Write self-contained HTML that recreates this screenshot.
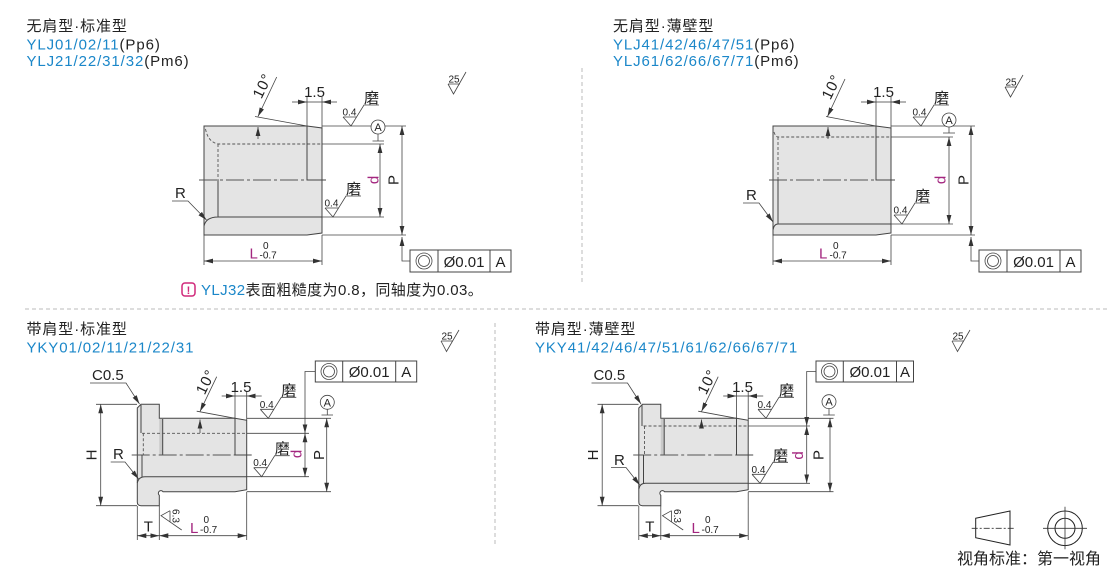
<!DOCTYPE html>
<html><head><meta charset="utf-8"><style>
html,body{margin:0;padding:0;background:#fff;}
svg{display:block;}
text{font-family:"Liberation Sans","Noto Sans CJK SC",sans-serif;fill:#222;font-size:15px;}
.o{fill:#e4e4e4;stroke:#444;stroke-width:1;}
.s{stroke:#444;fill:none;stroke-width:1;}
.t{stroke:#444;fill:none;stroke-width:0.8;}
.ds{stroke:#555;fill:none;stroke-width:0.9;stroke-dasharray:3,2;}
.cl{stroke:#555;fill:none;stroke-width:0.9;stroke-dasharray:18,3,3,3;}
.dv{stroke:#bbb;fill:none;stroke-width:1;stroke-dasharray:4,3;}
.sm{font-size:10px;}
.bl{fill:#1b87c9;}
.mg{fill:#a3267f;}
.ti{letter-spacing:0.9px;}
</style></head><body>
<svg width="1110" height="570" viewBox="0 0 1110 570" xmlns="http://www.w3.org/2000/svg">
<defs>
<marker id="a" viewBox="0 0 9 6" refX="9" refY="3" markerWidth="9" markerHeight="6" orient="auto-start-reverse" markerUnits="userSpaceOnUse"><path d="M0,0.6 L9,3 L0,5.4Z" fill="#333"/></marker>
</defs>

<!-- dividers -->
<line class="dv" x1="25" y1="309" x2="1108" y2="309"/>
<line class="dv" x1="582" y1="68" x2="582" y2="285"/>
<line class="dv" x1="495" y1="323" x2="495" y2="545"/>

<!-- ================= D1 ================= -->
<text x="26.5" y="31" class="ti">无肩型·标准型</text>
<text x="26.5" y="49.5" class="ti"><tspan class="bl">YLJ01/02/11</tspan>(Pp6)</text>
<text x="26.5" y="66" class="ti"><tspan class="bl">YLJ21/22/31/32</tspan>(Pm6)</text>

<path class="o" d="M204,126 L307,126 L322,128 L322,233 L307,235 L204,235 Z"/>
<path class="ds" d="M205.5,129 Q208,142 218,144 L322,144 M218,144 L218,180"/>
<line class="cl" x1="199" y1="180" x2="307" y2="180"/>
<path class="s" d="M218,180 L218,217 M204,226 Q206,217 218,217 L322,217 M307,126 L307,180 L326,180"/>

<path class="t" d="M322,126 L406,126 M322,235 L406,235 M322,144 L384,144 M322,217 L384,217 M204,235 L204,265 M322,235 L322,265 M307,97 L307,126 M322,97 L322,128 M255,116.5 L307,126"/>
<line class="t" x1="380" y1="144" x2="380" y2="217" marker-start="url(#a)" marker-end="url(#a)"/>
<line class="t" x1="402" y1="126" x2="402" y2="235" marker-start="url(#a)" marker-end="url(#a)"/>
<polyline class="t" points="410,261 402,261 402,237" marker-end="url(#a)"/>
<line class="t" x1="204" y1="261" x2="322" y2="261" marker-start="url(#a)" marker-end="url(#a)"/>
<line class="t" x1="292" y1="102" x2="307" y2="102" marker-end="url(#a)"/>
<line class="t" x1="337" y1="102" x2="322" y2="102" marker-end="url(#a)"/>
<line class="t" x1="307" y1="102" x2="322" y2="102"/>
<line class="t" x1="276.7" y1="77" x2="258" y2="116.5" marker-end="url(#a)"/>
<line class="t" x1="258" y1="139" x2="258" y2="127" marker-end="url(#a)"/>
<text transform="translate(267,88) rotate(-64)" text-anchor="middle" style="letter-spacing:1px">10°</text>
<text x="314.5" y="97" text-anchor="middle">1.5</text>
<!-- roughness top -->
<path class="t" d="M343,117 L351,126 L364,105 L379,105 M343,117 L356.6,117"/>
<text x="342.5" y="115.5" class="sm">0.4</text>
<text x="364" y="103">磨</text>
<!-- roughness lower -->
<path class="t" d="M325,208 L333,217 L346,196 L361,196 M325,208 L338.6,208"/>
<text x="324.5" y="206.5" class="sm">0.4</text>
<text x="346" y="194">磨</text>
<!-- datum -->
<path class="t" d="M378,134 L378,141 M372.5,141 L384,141"/>
<circle cx="378" cy="127" r="7" fill="#fff" stroke="#444" stroke-width="0.8"/>
<text x="378" y="131" text-anchor="middle" style="font-size:11px">A</text>
<text transform="translate(378.5,180) rotate(-90)" text-anchor="middle" class="mg">d</text>
<text transform="translate(398.5,180) rotate(-90)" text-anchor="middle">P</text>
<!-- R -->
<text x="175" y="198">R</text>
<path class="t" d="M172,201 L188,201 L206.5,220" marker-end="url(#a)"/>
<!-- L -->
<text x="249.5" y="258.5" class="mg">L</text>
<text x="263" y="249" class="sm">0</text>
<text x="259.5" y="258.5" class="sm">-0.7</text>
<!-- FCF -->
<rect x="410" y="250" width="101" height="22" fill="#fff" stroke="#444"/>
<path class="s" d="M438,250 L438,272 M490,250 L490,272"/>
<circle cx="424" cy="261" r="8" class="t"/><circle cx="424" cy="261" r="5.5" class="t"/>
<text x="464" y="267" text-anchor="middle">Ø0.01</text>
<text x="500.5" y="267" text-anchor="middle">A</text>
<!-- 25 -->
<path class="t" d="M448,84 L453.5,94 L466,72 M448,84 L460,84"/>
<text x="448.5" y="82.5" class="sm">25</text>
<!-- note -->
<rect x="182" y="283" width="13" height="13" rx="3" fill="none" stroke="#d0287a" stroke-width="1.5"/>
<text x="188.5" y="294" text-anchor="middle" style="font-size:11px;font-weight:bold;fill:#d0287a">!</text>
<text x="201" y="295" style="letter-spacing:0.4px"><tspan class="bl">YLJ32</tspan>表面粗糙度为0.8，同轴度为0.03。</text>

<!-- ================= D2 ================= -->
<text x="613" y="31" class="ti">无肩型·薄壁型</text>
<text x="613" y="49.5" class="ti"><tspan class="bl">YLJ41/42/46/47/51</tspan>(Pp6)</text>
<text x="613" y="66" class="ti"><tspan class="bl">YLJ61/62/66/67/71</tspan>(Pm6)</text>

<path class="o" d="M773,126 L876,126 L891,128 L891,233 L876,235 L773,235 Z"/>
<path class="ds" d="M774,132 Q775.5,137 778,137 L891,137 M778,137 L778,180"/>
<line class="cl" x1="769" y1="180" x2="876" y2="180"/>
<path class="s" d="M778,180 L778,224 M773,230 Q774,224 778,224 L891,224 M876,126 L876,180 L895,180"/>

<path class="t" d="M891,126 L975,126 M891,235 L975,235 M891,137 L953,137 M891,224 L953,224 M773,235 L773,265 M891,235 L891,265 M876,97 L876,126 M891,97 L891,128 M826,116.5 L876,126"/>
<line class="t" x1="949" y1="137" x2="949" y2="224" marker-start="url(#a)" marker-end="url(#a)"/>
<line class="t" x1="971" y1="126" x2="971" y2="235" marker-start="url(#a)" marker-end="url(#a)"/>
<polyline class="t" points="979,261 971,261 971,237" marker-end="url(#a)"/>
<line class="t" x1="773" y1="261" x2="891" y2="261" marker-start="url(#a)" marker-end="url(#a)"/>
<line class="t" x1="861" y1="102" x2="876" y2="102" marker-end="url(#a)"/>
<line class="t" x1="906" y1="102" x2="891" y2="102" marker-end="url(#a)"/>
<line class="t" x1="876" y1="102" x2="891" y2="102"/>
<line class="t" x1="845" y1="79" x2="827.5" y2="116.5" marker-end="url(#a)"/>
<line class="t" x1="828" y1="139" x2="828" y2="127" marker-end="url(#a)"/>
<text transform="translate(836,89) rotate(-64)" text-anchor="middle" style="letter-spacing:1px">10°</text>
<text x="883.5" y="97" text-anchor="middle">1.5</text>
<path class="t" d="M913,117 L921,126 L934,105 L949,105 M913,117 L926.6,117"/>
<text x="912.5" y="115.5" class="sm">0.4</text>
<text x="934" y="103">磨</text>
<path class="t" d="M894,215 L902,224 L915,203 L930,203 M894,215 L907.6,215"/>
<text x="893.5" y="213.5" class="sm">0.4</text>
<text x="915" y="201">磨</text>
<path class="t" d="M949,127 L949,133 M943,133 L955,133"/>
<circle cx="949" cy="120" r="7" fill="#fff" stroke="#444" stroke-width="0.8"/>
<text x="949" y="124" text-anchor="middle" style="font-size:11px">A</text>
<text transform="translate(945.5,180) rotate(-90)" text-anchor="middle" class="mg">d</text>
<text transform="translate(968.5,180) rotate(-90)" text-anchor="middle">P</text>
<text x="746" y="200">R</text>
<path class="t" d="M743,203 L759,203 L773,222" marker-end="url(#a)"/>
<text x="819" y="258.5" class="mg">L</text>
<text x="833" y="249" class="sm">0</text>
<text x="829.5" y="258.5" class="sm">-0.7</text>
<rect x="979" y="250" width="102" height="22" fill="#fff" stroke="#444"/>
<path class="s" d="M1007,250 L1007,272 M1060,250 L1060,272"/>
<circle cx="993" cy="261" r="8" class="t"/><circle cx="993" cy="261" r="5.5" class="t"/>
<text x="1033.5" y="267" text-anchor="middle">Ø0.01</text>
<text x="1070.5" y="267" text-anchor="middle">A</text>
<path class="t" d="M1005,87 L1010.5,97 L1023,75 M1005,87 L1017,87"/>
<text x="1005.5" y="85.5" class="sm">25</text>

<!-- ================= D3 ================= -->
<text x="26.5" y="334" class="ti">带肩型·标准型</text>
<text x="26.5" y="352.5" class="ti bl">YKY01/02/11/21/22/31</text>

<path class="o" d="M137.3,408 L141,404.3 L159.3,404.3 L159.3,418.3 L235,418.3 L246.7,420.3 L246.7,489.7 L235,491.7 L163,491.7 A2.6,2.6 0 1 0 159.3,495.3 L159.3,505.7 L141,505.7 Q137.3,505.7 137.3,502 Z"/>
<rect x="159.3" y="419" width="3.4" height="36" fill="#c9c9c9"/>
<path class="s" d="M162.7,419 L162.7,455 M141,405 L141,433"/>
<path class="ds" d="M142,433.3 L246.7,433.3 M143.3,433.3 L143.3,455"/>
<line class="cl" x1="131.7" y1="455" x2="235" y2="455"/>
<path class="s" d="M142,455 L142,476.7 M137.3,483 Q138.5,476.7 145,476.7 L246.7,476.7 M235,418.3 L235,455 L251.7,455"/>

<path class="t" d="M96,404.3 L137,404.3 M96,505.7 L137,505.7 M246.7,418.3 L331,418.3 M246.7,491.7 L331,491.7 M246.7,433.3 L309,433.3 M246.7,476.7 L309,476.7 M137.3,506 L137.3,540 M159.3,506 L159.3,540 M246.7,492 L246.7,540 M235,391 L235,418.3 M246.7,391 L246.7,420 M196.7,411.2 L235,418.3"/>
<line class="t" x1="100.7" y1="404.3" x2="100.7" y2="505.7" marker-start="url(#a)" marker-end="url(#a)"/>
<line class="t" x1="305" y1="433.3" x2="305" y2="476.7" marker-start="url(#a)" marker-end="url(#a)"/>
<line class="t" x1="326.7" y1="418.3" x2="326.7" y2="491.7" marker-start="url(#a)" marker-end="url(#a)"/>
<polyline class="t" points="315.3,371.5 305,371.5 305,433.3" marker-end="url(#a)"/>
<line class="t" x1="137.3" y1="535.7" x2="159.3" y2="535.7" marker-start="url(#a)" marker-end="url(#a)"/>
<line class="t" x1="159.3" y1="535.7" x2="246.7" y2="535.7" marker-start="url(#a)" marker-end="url(#a)"/>
<line class="t" x1="221.7" y1="396" x2="235" y2="396" marker-end="url(#a)"/>
<line class="t" x1="261.7" y1="396" x2="246.7" y2="396" marker-end="url(#a)"/>
<line class="t" x1="235" y1="396" x2="246.7" y2="396"/>
<line class="t" x1="216.7" y1="376.7" x2="200" y2="411.5" marker-end="url(#a)"/>
<line class="t" x1="200" y1="433" x2="200" y2="419.5" marker-end="url(#a)"/>
<text transform="translate(210.3,384) rotate(-64)" text-anchor="middle" style="letter-spacing:1px">10°</text>
<text x="241" y="392" text-anchor="middle">1.5</text>
<path class="t" d="M260.3,409.3 L268.3,418.3 L281.3,397.3 L296.3,397.3 M260.3,409.3 L273.9,409.3"/>
<text x="259.8" y="407.8" class="sm">0.4</text>
<text x="281.3" y="395.3">磨</text>
<path class="t" d="M253.7,467.7 L261.7,476.7 L274.7,455.7 L289.7,455.7 M253.7,467.7 L267.3,467.7"/>
<text x="253.2" y="466.2" class="sm">0.4</text>
<text x="274.7" y="453.7">磨</text>
<path class="t" d="M327.3,409.3 L327.3,415 M321.5,415 L333,415"/>
<circle cx="327.3" cy="402.3" r="7" fill="#fff" stroke="#444" stroke-width="0.8"/>
<text x="327.3" y="406.3" text-anchor="middle" style="font-size:11px">A</text>
<text transform="translate(301.5,454) rotate(-90)" text-anchor="middle" class="mg">d</text>
<text transform="translate(324,455) rotate(-90)" text-anchor="middle">P</text>
<text transform="translate(96.4,455) rotate(-90)" text-anchor="middle">H</text>
<text x="92" y="380">C0.5</text>
<path class="t" d="M90,383 L126,383 L139.5,404" marker-end="url(#a)"/>
<text x="113" y="459">R</text>
<path class="t" d="M110.7,462 L125,462 L138.6,479" marker-end="url(#a)"/>
<text x="148.3" y="531.5" text-anchor="middle">T</text>
<text x="190" y="533" class="mg">L</text>
<text x="203.5" y="523" class="sm">0</text>
<text x="200" y="533" class="sm">-0.7</text>
<path class="t" d="M170,510.7 L161,515.7 L181.7,530 M170,510.7 L170,521.9"/>
<text transform="translate(172.4,516) rotate(90)" text-anchor="middle" class="sm">6.3</text>
<rect x="315.3" y="361" width="101.4" height="21" fill="#fff" stroke="#444"/>
<path class="s" d="M342.7,361 L342.7,382 M395.7,361 L395.7,382"/>
<circle cx="329" cy="371.5" r="8" class="t"/><circle cx="329" cy="371.5" r="5.5" class="t"/>
<text x="369.2" y="377" text-anchor="middle">Ø0.01</text>
<text x="406.2" y="377" text-anchor="middle">A</text>
<path class="t" d="M441,341 L446.5,351.5 L459,330 M441,341 L453,341"/>
<text x="441.5" y="339.5" class="sm">25</text>

<!-- ================= D4 ================= -->
<text x="535" y="334" class="ti">带肩型·薄壁型</text>
<text x="535" y="352.5" class="ti bl">YKY41/42/46/47/51/61/62/66/67/71</text>

<g transform="translate(501.5,0)">
<path class="o" d="M137.3,408 L141,404.3 L159.3,404.3 L159.3,418.3 L235,418.3 L246.7,420.3 L246.7,489.7 L235,491.7 L163,491.7 A2.6,2.6 0 1 0 159.3,495.3 L159.3,505.7 L141,505.7 Q137.3,505.7 137.3,502 Z"/>
<rect x="159.3" y="419" width="3.4" height="36" fill="#c9c9c9"/>
<path class="s" d="M162.7,419 L162.7,455 M140.5,405 L140.5,426"/>
<path class="ds" d="M142,426 L246.7,426 M143,426 L143,455"/>
<line class="cl" x1="131.7" y1="455" x2="235" y2="455"/>
<path class="s" d="M142,455 L142,483.3 M137.3,489 Q138.3,483.3 144,483.3 L246.7,483.3 M235,418.3 L235,455 L251.7,455"/>
<path class="t" d="M96,404.3 L137,404.3 M96,505.7 L137,505.7 M246.7,418.3 L332,418.3 M246.7,491.7 L332,491.7 M246.7,426 L308.5,426 M246.7,483.3 L308.5,483.3 M137.3,506 L137.3,540 M159.3,506 L159.3,540 M246.7,492 L246.7,540 M235,391 L235,418.3 M246.7,391 L246.7,420 M196.7,411.2 L235,418.3"/>
<line class="t" x1="100.7" y1="404.3" x2="100.7" y2="505.7" marker-start="url(#a)" marker-end="url(#a)"/>
<line class="t" x1="305.2" y1="426" x2="305.2" y2="483.3" marker-start="url(#a)" marker-end="url(#a)"/>
<line class="t" x1="328.5" y1="418.3" x2="328.5" y2="491.7" marker-start="url(#a)" marker-end="url(#a)"/>
<polyline class="t" points="314.5,371.5 305.2,371.5 305.2,426" marker-end="url(#a)"/>
<line class="t" x1="137.3" y1="535.7" x2="159.3" y2="535.7" marker-start="url(#a)" marker-end="url(#a)"/>
<line class="t" x1="159.3" y1="535.7" x2="246.7" y2="535.7" marker-start="url(#a)" marker-end="url(#a)"/>
<line class="t" x1="221.7" y1="396" x2="235" y2="396" marker-end="url(#a)"/>
<line class="t" x1="261.7" y1="396" x2="246.7" y2="396" marker-end="url(#a)"/>
<line class="t" x1="235" y1="396" x2="246.7" y2="396"/>
<line class="t" x1="216.7" y1="376.7" x2="200" y2="411.5" marker-end="url(#a)"/>
<line class="t" x1="200" y1="426" x2="200" y2="419.5" marker-end="url(#a)"/>
<text transform="translate(210.3,384) rotate(-64)" text-anchor="middle" style="letter-spacing:1px">10°</text>
<text x="241" y="392" text-anchor="middle">1.5</text>
<path class="t" d="M256.5,409.3 L264.5,418.3 L277.5,397.3 L292.5,397.3 M256.5,409.3 L270.1,409.3"/>
<text x="256" y="407.8" class="sm">0.4</text>
<text x="277.5" y="395.3">磨</text>
<path class="t" d="M250.5,474.3 L258.5,483.3 L271.5,462.3 L286.5,462.3 M250.5,474.3 L264.1,474.3"/>
<text x="250" y="472.8" class="sm">0.4</text>
<text x="271.5" y="460.3">磨</text>
<path class="t" d="M327.5,408.7 L327.5,415 M321.7,415 L333.3,415"/>
<circle cx="327.5" cy="401.7" r="7" fill="#fff" stroke="#444" stroke-width="0.8"/>
<text x="327.5" y="405.7" text-anchor="middle" style="font-size:11px">A</text>
<text transform="translate(301.5,455.5) rotate(-90)" text-anchor="middle" class="mg">d</text>
<text transform="translate(322,455) rotate(-90)" text-anchor="middle">P</text>
<text transform="translate(96.4,455) rotate(-90)" text-anchor="middle">H</text>
<text x="92" y="380">C0.5</text>
<path class="t" d="M90,383 L126,383 L139.5,404" marker-end="url(#a)"/>
<text x="112.5" y="465">R</text>
<path class="t" d="M109.5,467.5 L124.5,467.5 L138.2,485" marker-end="url(#a)"/>
<text x="148.3" y="531.5" text-anchor="middle">T</text>
<text x="190" y="533" class="mg">L</text>
<text x="203.5" y="523" class="sm">0</text>
<text x="200" y="533" class="sm">-0.7</text>
<path class="t" d="M170,510.7 L161,515.7 L181.7,530 M170,510.7 L170,521.9"/>
<text transform="translate(172.4,516) rotate(90)" text-anchor="middle" class="sm">6.3</text>
<rect x="314.5" y="361" width="97.5" height="21" fill="#fff" stroke="#444"/>
<path class="s" d="M341.8,361 L341.8,382 M395,361 L395,382"/>
<circle cx="328" cy="371.5" r="8" class="t"/><circle cx="328" cy="371.5" r="5.5" class="t"/>
<text x="368.4" y="377" text-anchor="middle">Ø0.01</text>
<text x="403.5" y="377" text-anchor="middle">A</text>
</g>
<path class="t" d="M952,341 L957.5,351.5 L970,330 M952,341 L964,341"/>
<text x="952.5" y="339.5" class="sm">25</text>

<!-- view symbol -->
<path d="M975.7,518.3 L1010,511 L1010,545 L975.7,537.7 Z" fill="none" stroke="#222" stroke-width="1"/>
<line x1="971.7" y1="528.3" x2="1014" y2="528.3" stroke="#333" stroke-width="0.8" stroke-dasharray="6,2,2,2"/>
<circle cx="1065" cy="528.3" r="17.3" fill="none" stroke="#222" stroke-width="1"/>
<circle cx="1065" cy="528.3" r="10" fill="none" stroke="#222" stroke-width="1"/>
<path d="M1043,528.3 L1087,528.3 M1065,506.7 L1065,549.3" stroke="#333" stroke-width="0.8"/>
<text x="957" y="564" style="font-size:16px">视角标准：第一视角</text>
</svg>
</body></html>
